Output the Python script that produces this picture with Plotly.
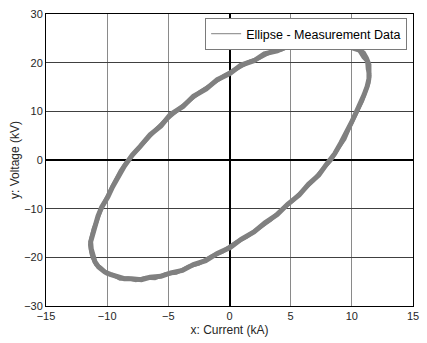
import plotly.graph_objects as go

current_kA_loop1 = [11.40, 11.45, 11.40, 11.20, 10.95, 10.40, 9.85, 9.20, 8.70, 7.95, 7.30, 6.45,
                    5.70, 4.75, 3.90, 2.85, 2.00, 0.95, 0.05, -1.00, -1.90, -2.95, -3.80, -4.85,
                    -5.60, -6.50, -7.30, -7.95, -8.60, -9.10, -9.55, -9.95, -10.45, -10.75, -11.00, -11.20,
                    -11.35, -11.30, -11.20, -11.00, -10.70, -10.20, -9.75, -9.30, -8.60, -8.00, -7.20, -6.50,
                    -5.60, -4.80, -3.85, -2.95, -1.95, -1.00, 0.05, 0.95, 2.00, 2.90, 3.90, 4.75,
                    5.70, 6.45, 7.30, 7.95, 8.60, 9.10, 9.55, 9.95, 10.30, 10.70, 11.00, 11.25, 11.40]
voltage_kV_loop1 = [16.7, 18.3, 19.6, 20.9, 22.0, 23.0, 23.3, 24.1, 24.2, 24.6, 24.3, 24.4,
                    23.7, 23.4, 22.4, 21.8, 20.4, 19.5, 17.8, 16.5, 14.6, 13.1, 11.0, 9.3,
                    7.0, 5.2, 2.8, 1.0, -1.3, -3.4, -5.5, -7.6, -9.7, -11.5, -13.4, -15.1,
                    -16.8, -18.3, -19.6, -20.9, -22.0, -23.0, -23.5, -23.9, -24.4, -24.4, -24.6, -24.1,
                    -23.9, -23.2, -22.7, -21.5, -20.7, -19.2, -18.0, -16.3, -14.8, -12.9, -11.2, -9.1,
                    -7.2, -5.0, -3.1, -0.8, 1.3, 3.5, 5.5, 7.6, 9.5, 11.6, 13.4, 15.1, 16.7]

current_kA_loop2 = [11.45, 11.30, 11.25, 10.95, 10.60, 10.05, 9.60, 8.90, 8.40, 7.55, 6.95, 6.00,
                    5.30, 4.25, 3.45, 2.40, 1.55, 0.40, -0.45, -1.55, -2.40, -3.50, -4.25, -5.30,
                    -6.00, -6.95, -7.55, -8.40, -8.90, -9.40, -9.75, -10.20, -10.55, -10.85, -11.10, -11.30,
                    -11.40, -11.30, -11.20, -10.90, -10.55, -10.05, -9.55, -8.95, -8.30, -7.65, -6.85, -6.10,
                    -5.20, -4.35, -3.35, -2.50, -1.45, -0.55, 0.50, 1.40, 2.50, 3.35, 4.35, 5.15,
                    6.10, 6.85, 7.65, 8.30, 8.90, 9.40, 9.80, 10.15, 10.55, 10.85, 11.15, 11.35, 11.45]
voltage_kV_loop2 = [17.6, 18.7, 20.3, 21.1, 22.5, 22.9, 23.9, 24.0, 24.6, 24.3, 24.6, 23.9,
                    23.8, 22.7, 22.3, 20.9, 20.1, 18.4, 17.3, 15.4, 14.0, 11.8, 10.3, 8.0,
                    6.3, 3.8, 2.1, -0.4, -2.2, -4.6, -6.4, -8.8, -10.4, -12.6, -14.1, -16.1,
                    -17.4, -19.1, -20.0, -21.5, -22.1, -23.3, -23.6, -24.4, -24.3, -24.7, -24.2, -24.3,
                    -23.4, -23.2, -21.9, -21.3, -19.8, -18.8, -17.0, -15.8, -13.7, -12.3, -10.0, -8.4,
                    -6.0, -4.2, -1.8, 0.0, 2.5, 4.3, 6.7, 8.4, 10.7, 12.2, 14.4, 15.7, 17.6]

x_ticks = [-15, -10, -5, 0, 5, 10, 15]
y_ticks = [-30, -20, -10, 0, 10, 20, 30]
series_name = "Ellipse - Measurement Data"

FONT = "Liberation Sans, Arial, sans-serif"
GRAY = "#808080"

fig = go.Figure()
fig.add_trace(go.Scatter(x=current_kA_loop1, y=voltage_kV_loop1, mode="lines",
                         line=dict(color=GRAY, width=5), showlegend=False))
fig.add_trace(go.Scatter(x=current_kA_loop2, y=voltage_kV_loop2, mode="lines",
                         line=dict(color=GRAY, width=4), showlegend=False))
fig.add_trace(go.Scatter(x=[None], y=[None], mode="lines", name=series_name,
                         line=dict(color=GRAY, width=1), showlegend=True))

axis_common = dict(showline=True, linecolor="black", linewidth=1, mirror=True,
                   ticks="", zeroline=True, zerolinecolor="black", zerolinewidth=2,
                   tickfont=dict(family=FONT, size=11, color="#262626"))
fig.update_xaxes(range=[-15, 15], tickvals=x_ticks, gridcolor="#8a8a8a", gridwidth=1,
                 title=dict(text="x: Current (kA)", font=dict(family=FONT, size=12, color="#262626"),
                            standoff=4),
                 **axis_common)
fig.update_yaxes(range=[-30, 30], tickvals=y_ticks, gridcolor="#404040", gridwidth=1,
                 title=dict(text="y: Voltage (kV)", font=dict(family=FONT, size=12, color="#262626"),
                            standoff=1),
                 **axis_common)
fig.update_layout(width=427, height=343,
                  margin=dict(l=46, r=8, t=11, b=37),
                  paper_bgcolor="white", plot_bgcolor="white",
                  font=dict(family=FONT, size=12, color="#262626"),
                  legend=dict(x=0.984, y=0.986, xanchor="right", yanchor="top",
                              bgcolor="white", bordercolor="#7a7a7a", borderwidth=1,
                              font=dict(family=FONT, size=12.5, color="black"),
                              itemwidth=30, tracegroupgap=0))
fig.write_html("out.html")
